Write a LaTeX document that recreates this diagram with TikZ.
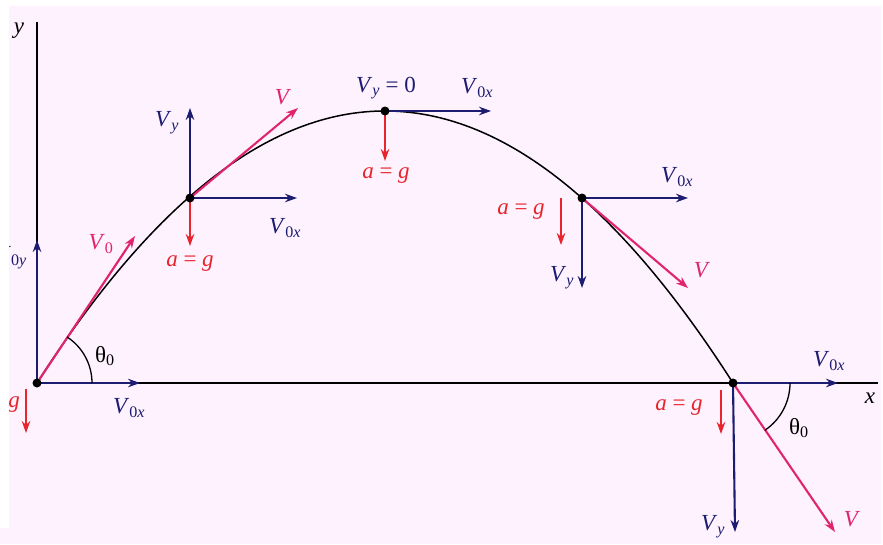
\documentclass[tikz,border=0pt]{standalone}
\usetikzlibrary{arrows.meta}
\usepackage{fontspec}
\setmainfont{Liberation Serif}
\definecolor{bgpink}{HTML}{FDF2FD}
\definecolor{navy}{HTML}{1C1C70}
\definecolor{redc}{HTML}{E8242C}
\definecolor{magc}{HTML}{E0246E}
\newcommand\Vsub[1]{\textit{V}\textsubscript{#1}}
\begin{document}
\begin{tikzpicture}[x=1pt,y=-1pt,
  lbl/.style={font=\fontsize{23}{26}\selectfont, inner sep=0pt},
  bluearr/.style={draw=navy, line width=2.1pt, -{Stealth[length=12pt,width=8.5pt]}},
  redarr/.style={draw=redc, line width=2.1pt, -{Stealth[length=12pt,width=8.5pt]}},
  magarr/.style={draw=magc, line width=2.1pt, -{Stealth[length=12pt,width=8.5pt]}},
  axisline/.style={draw=black, line width=1.5pt},
  dotc/.style={fill=black},
  bl/.style={lbl, text=navy},
  rl/.style={lbl, text=redc},
  ml/.style={lbl, text=magc},
  kl/.style={lbl, text=black}]
\useasboundingbox (0,0) rectangle (883,544);
\fill[white] (0,0) rectangle (883,544);
\fill[bgpink] (9,6) rectangle (881,544);
\fill[bgpink] (0,528) rectangle (9,544);
\begin{scope}
\clip (9,6) rectangle (883,544);
% points
\coordinate (O) at (37,383);
\coordinate (P2) at (190,198);
\coordinate (P3) at (385,111);
\coordinate (P4) at (582,198);
\coordinate (P5) at (733,383);
\coordinate (ytop) at (37,22);
\coordinate (xend) at (878,383);
% axes
\draw[axisline] (O) -- (ytop);
\draw[axisline] (O) -- (xend);
\node[kl] (ylab) at (19,31) {\textit{y}};
\node[kl] (xlab) at (870,398) {\textit{x}};
% trajectory
\draw[black, line width=1.5pt] (O) .. controls (269,20.3) and (501,20.3) .. (P5);
% origin
\coordinate (O0x) at (140,383);
\coordinate (O0y) at (37,240);
\coordinate (O0) at (135,236);
\coordinate (Oa1) at (26,389);
\coordinate (Oa2) at (26,433);
\draw[bluearr] (O) -- (O0x);
\draw[bluearr] (O) -- (O0y);
\draw[magarr] (O) -- (O0);
\draw[redarr] (Oa1) -- (Oa2);
\draw[black, line width=1.3pt] (92,383) arc[start angle=0, end angle=-57, radius=55];
\node[bl] (lO0x) at (129,408) {\Vsub{0\textit{x}}};
\node[bl, anchor=east] (lO0y) at (27,258) {\Vsub{0\textit{y}}};
\node[ml] (lO0) at (101,244) {\Vsub{0}};
\node[rl, anchor=east] (lOa) at (20,405) {\textit{a} = \textit{g}};
\node[kl] (lth1) at (105,356) {θ\textsubscript{0}};
% point 2
\coordinate (P2y) at (190,108);
\coordinate (P2x) at (297,198);
\coordinate (P2v) at (298,108);
\coordinate (P2a) at (190,246);
\draw[bluearr] (P2) -- (P2y);
\draw[bluearr] (P2) -- (P2x);
\draw[magarr] (P2) -- (P2v);
\draw[redarr] (P2) -- (P2a);
\node[bl] (l2y) at (167,123) {\Vsub{\textit{y}}};
\node[bl] (l2x) at (285,228) {\Vsub{0\textit{x}}};
\node[ml] (l2v) at (283,97) {\textit{V}};
\node[rl] (l2a) at (190,264) {\textit{a} = \textit{g}};
% peak
\coordinate (P3x) at (491,111);
\coordinate (P3a) at (385,161);
\draw[bluearr] (P3) -- (P3x);
\draw[redarr] (P3) -- (P3a);
\node[bl] (l3y) at (386,88) {\Vsub{\textit{y}} = 0};
\node[bl] (l3x) at (477,88) {\Vsub{0\textit{x}}};
\node[rl] (l3a) at (386,176) {\textit{a} = \textit{g}};
% point 4
\coordinate (P4x) at (688,198);
\coordinate (P4y) at (582,288);
\coordinate (P4v) at (688,288);
\coordinate (P4a1) at (561,198);
\coordinate (P4a2) at (561,245);
\draw[bluearr] (P4) -- (P4x);
\draw[bluearr] (P4) -- (P4y);
\draw[magarr] (P4) -- (P4v);
\draw[redarr] (P4a1) -- (P4a2);
\node[bl] (l4x) at (677,177) {\Vsub{0\textit{x}}};
\node[bl] (l4y) at (562,278) {\Vsub{\textit{y}}};
\node[ml] (l4v) at (702,270) {\textit{V}};
\node[rl] (l4a) at (521,212) {\textit{a} = \textit{g}};
% point 5
\coordinate (P5x) at (838,383);
\coordinate (P5y) at (735,532);
\coordinate (P5v) at (835,532);
\coordinate (P5a1) at (721,390);
\coordinate (P5a2) at (721,434);
\draw[bluearr] (P5) -- (P5x);
\draw[bluearr] (P5) -- (P5y);
\draw[magarr] (P5) -- (P5v);
\draw[redarr] (P5a1) -- (P5a2);
\draw[black, line width=1.3pt] (790,383) arc[start angle=0, end angle=56, radius=57];
\node[bl] (l5x) at (829,361) {\Vsub{0\textit{x}}};
\node[bl] (l5y) at (713,527) {\Vsub{\textit{y}}};
\node[ml] (l5v) at (852,519) {\textit{V}};
\node[rl] (l5a) at (679,408) {\textit{a} = \textit{g}};
\node[kl] (lth2) at (799,428) {θ\textsubscript{0}};
% dots
\fill[dotc] (O) circle (4.5);
\fill[dotc] (P2) circle (4.5);
\fill[dotc] (P3) circle (4.5);
\fill[dotc] (P4) circle (4.5);
\fill[dotc] (P5) circle (4.5);
\end{scope}
\end{tikzpicture}
\end{document}
